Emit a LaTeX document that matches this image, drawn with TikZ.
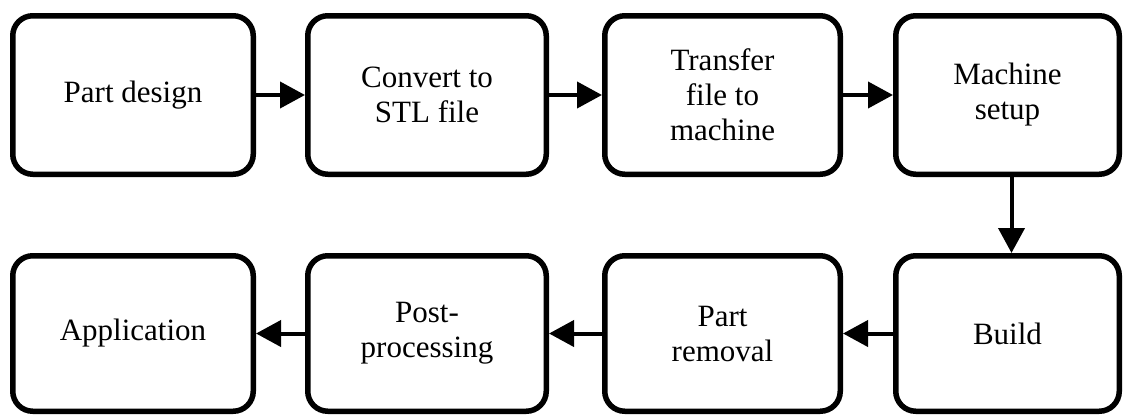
\documentclass[tikz,border=0pt]{standalone}
\usepackage{fontspec}
\setmainfont{Liberation Serif}
\usetikzlibrary{arrows.meta}
\begin{document}
\begin{tikzpicture}[x=1pt,y=-1pt,
  stepbox/.style={draw=black, line width=5.5pt, rounded corners=20pt, fill=white,
    inner sep=0pt, align=center, font=\fontsize{31}{35}\selectfont},
  flow/.style={line width=4pt, -{Triangle[length=25pt,width=26pt]}}]
\useasboundingbox[fill=white] (0,0) rectangle (1124,416);
\node[stepbox, minimum width=240.5pt, minimum height=158.5pt] (a) at (133,95) {Part design};
\node[stepbox, minimum width=238.5pt, minimum height=158.5pt] (b) at (427,95) {Convert to\\STL file};
\node[stepbox, minimum width=235.5pt, minimum height=158.5pt] (c) at (722.5,95) {Transfer\\file to\\machine};
\node[stepbox, minimum width=223.5pt, minimum height=158.5pt] (d) at (1007.5,95) {Machine\\setup};
\node[stepbox, minimum width=223.5pt, minimum height=155.5pt] (e) at (1007.5,333.5) {Build};
\node[stepbox, minimum width=235.5pt, minimum height=155.5pt] (f) at (722.5,333.5) {Part\\removal};
\node[stepbox, minimum width=238.5pt, minimum height=155.5pt] (g) at (427,333.5) {Post-\\processing};
\node[stepbox, minimum width=240.5pt, minimum height=155.5pt] (h) at (133,333.5) {Application};
\draw[flow] (a) -- (b);
\draw[flow] (b) -- (c);
\draw[flow] (c) -- (d);
\draw[flow] (d.south) ++(4,0) -- ([xshift=4pt]e.north);
\draw[flow] (e) -- (f);
\draw[flow] (f) -- (g);
\draw[flow] (g) -- (h);
\end{tikzpicture}
\end{document}
